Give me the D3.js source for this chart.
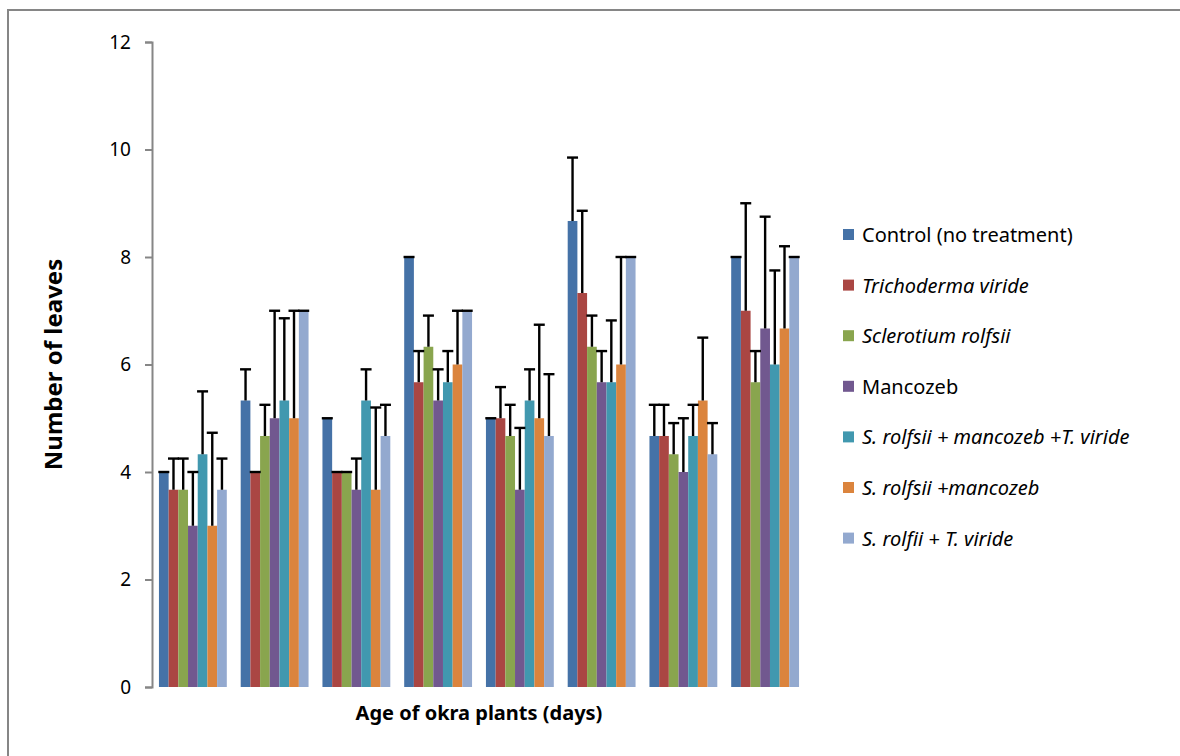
<!DOCTYPE html>
<meta charset="utf-8">
<script src="https://d3js.org/d3.v7.min.js"></script>
<style>
  body { margin: 0; background: #fff; }
  text { font-family: "Noto Sans", sans-serif; fill: #000; }
  .axis path, .axis line { stroke: #868686; stroke-width: 2px; }
  .axis text { font-size: 19px; fill: #000; }
</style>
<body>
<script>
// groups along x (no labels shown in the original)
var ages = ["g1", "g2", "g3", "g4", "g5", "g6", "g7", "g8"];

var treatments = [
  "Control (no treatment)",
  "Trichoderma viride",
  "Sclerotium rolfsii",
  "Mancozeb",
  "S. rolfsii + mancozeb +T. viride",
  "S. rolfsii +mancozeb",
  "S. rolfii + T. viride"
];
var italic = [false, true, true, false, true, true, true];

// mean number of leaves, one array per treatment (8 ages)
var control    = [4.00, 5.33, 5.00, 8.00, 5.00, 8.67, 4.67, 8.00];
var tViride    = [3.67, 4.00, 4.00, 5.67, 5.00, 7.33, 4.67, 7.00];
var sRolfsii   = [3.67, 4.67, 4.00, 6.33, 4.67, 6.33, 4.33, 5.67];
var mancozeb   = [3.00, 5.00, 3.67, 5.33, 3.67, 5.67, 4.00, 6.67];
var srManTv    = [4.33, 5.33, 5.33, 5.67, 5.33, 5.67, 4.67, 6.00];
var srMan      = [3.00, 5.00, 3.67, 6.00, 5.00, 6.00, 5.33, 6.67];
var srTv       = [3.67, 7.00, 4.67, 7.00, 4.67, 8.00, 4.33, 8.00];

// error (upper bar)
var controlErr  = [0.00, 0.58, 0.00, 0.00, 0.00, 1.18, 0.58, 0.00];
var tVirideErr  = [0.58, 0.00, 0.00, 0.58, 0.58, 1.53, 0.58, 2.00];
var sRolfsiiErr = [0.58, 0.58, 0.00, 0.58, 0.58, 0.58, 0.58, 0.58];
var mancozebErr = [1.00, 2.00, 0.58, 0.58, 1.15, 0.58, 1.00, 2.08];
var srManTvErr  = [1.17, 1.53, 0.58, 0.58, 0.58, 1.15, 0.58, 1.75];
var srManErr    = [1.73, 2.00, 1.53, 1.00, 1.74, 2.00, 1.17, 1.53];
var srTvErr     = [0.58, 0.00, 0.58, 0.00, 1.15, 0.00, 0.58, 0.00];

var values = [control, tViride, sRolfsii, mancozeb, srManTv, srMan, srTv];
var errors = [controlErr, tVirideErr, sRolfsiiErr, mancozebErr, srManTvErr, srManErr, srTvErr];

var colors = ["#4572A7", "#AA4643", "#89A54E", "#71588F", "#4198AF", "#DB843D", "#93A9CF"];

var yTicks = [0, 2, 4, 6, 8, 10, 12];

var W = 1180, H = 756;
var svg = d3.select("body").append("svg")
  .attr("width", W)
  .attr("height", H);

// outer frame
svg.append("rect")
  .attr("x", 8).attr("y", 10)
  .attr("width", W + 20).attr("height", H + 20)
  .attr("fill", "none")
  .attr("stroke", "#868686")
  .attr("stroke-width", 2);

var pLeft = 152, pRight = 806, pTop = 42, pBottom = 687;

var x0 = d3.scaleBand()
  .domain(ages)
  .range([pLeft, pRight])
  .paddingInner(0.17)
  .paddingOuter(0.085);

var x1 = d3.scaleBand()
  .domain(d3.range(treatments.length))
  .range([0, x0.bandwidth()]);

var y = d3.scaleLinear()
  .domain([0, 12])
  .range([pBottom, pTop]);

// bars
var rows = [];
ages.forEach(function(a, i) {
  values.forEach(function(v, s) {
    rows.push({age: a, s: s, v: v[i], e: errors[s][i]});
  });
});

svg.append("g").selectAll("rect")
  .data(rows)
  .enter().append("rect")
  .attr("x", d => x0(d.age) + x1(d.s))
  .attr("y", d => y(d.v))
  .attr("width", x1.bandwidth())
  .attr("height", d => y(0) - y(d.v))
  .attr("fill", d => colors[d.s]);

// error bars (upper only)
var cx = d => x0(d.age) + x1(d.s) + x1.bandwidth() / 2;
var eb = svg.append("g").attr("stroke", "#000").attr("stroke-width", 2.4);
eb.selectAll("line.stem")
  .data(rows.filter(d => d.e > 0))
  .enter().append("line")
  .attr("class", "stem")
  .attr("x1", cx)
  .attr("x2", cx)
  .attr("y1", d => y(d.v))
  .attr("y2", d => y(d.v + d.e));
eb.selectAll("line.cap")
  .data(rows)
  .enter().append("line")
  .attr("class", "cap")
  .attr("x1", d => cx(d) - 5.5)
  .attr("x2", d => cx(d) + 5.5)
  .attr("y1", d => y(d.v + d.e))
  .attr("y2", d => y(d.v + d.e));

// y axis
svg.append("g")
  .attr("class", "axis")
  .attr("transform", "translate(" + pLeft + ",0)")
  .call(d3.axisLeft(y).tickValues(yTicks).tickSize(7).tickSizeOuter(7).tickPadding(14));

// axis titles
svg.append("text")
  .attr("transform", "translate(62," + ((pTop + pBottom) / 2) + ") rotate(-90)")
  .attr("text-anchor", "middle")
  .style("font-size", "24px")
  .style("font-weight", "bold")
  .text("Number of leaves");

svg.append("text")
  .attr("x", 479)
  .attr("y", 720)
  .attr("text-anchor", "middle")
  .style("font-size", "20px")
  .style("font-weight", "bold")
  .text("Age of okra plants (days)");

// legend
var legend = svg.append("g").selectAll("g")
  .data(treatments)
  .enter().append("g")
  .attr("transform", (d, i) => "translate(843," + (235 + i * 50.6) + ")");

legend.append("rect")
  .attr("x", 0).attr("y", -6)
  .attr("width", 11).attr("height", 11)
  .attr("fill", (d, i) => colors[i]);

legend.append("text")
  .attr("x", 19)
  .attr("y", 0)
  .attr("dy", "0.35em")
  .style("font-size", "20px")
  .style("font-style", (d, i) => italic[i] ? "italic" : "normal")
  .text(d => d);
</script>
</body>
